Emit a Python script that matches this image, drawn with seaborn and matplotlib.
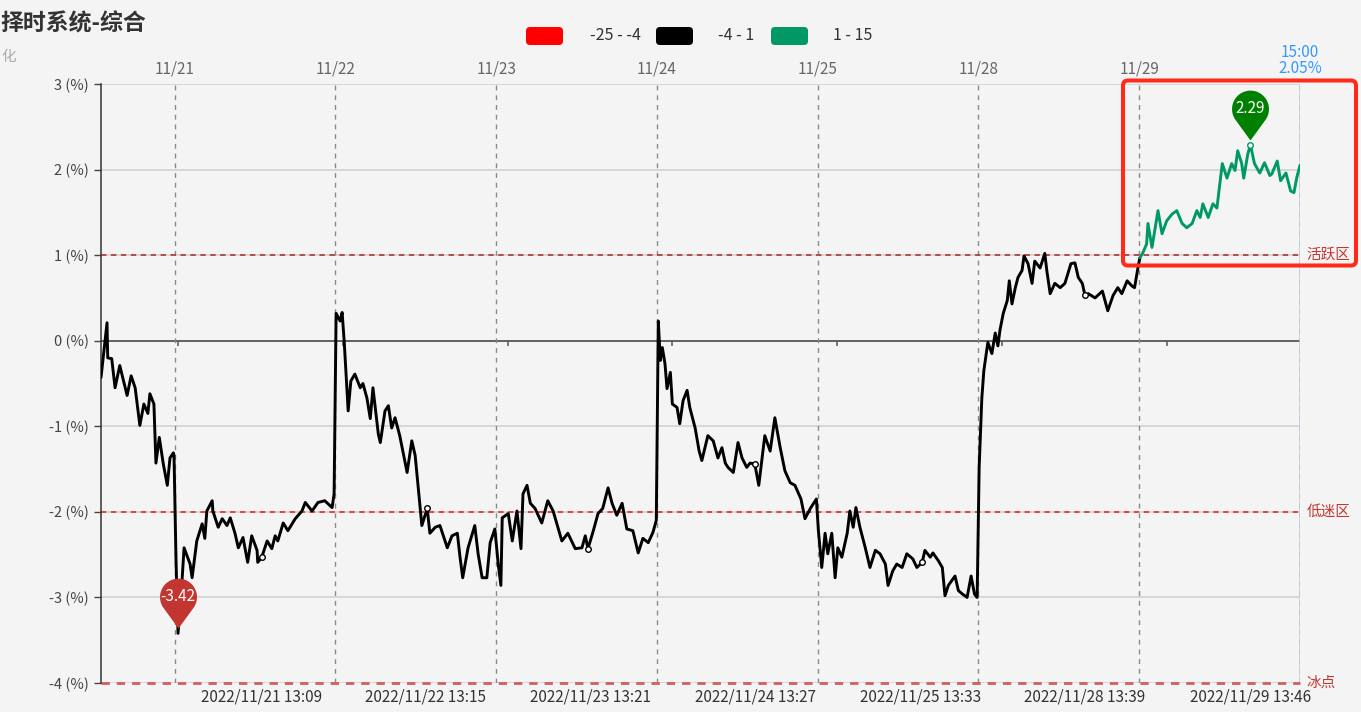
import numpy as np
import pandas as pd
import matplotlib.pyplot as plt
import seaborn as sns
from matplotlib.path import Path
from matplotlib.patches import FancyBboxPatch
from matplotlib.transforms import IdentityTransform

# 分时数据：交易分钟序号（0 = 11/18 13:10），涨跌幅(%)
minute = [0, 9, 10, 16, 21, 28, 39, 45, 51, 58, 64, 70, 73, 79, 82, 87, 93, 99, 103, 108, 109,
          112, 115, 121, 124, 133, 136, 143, 151, 155, 158, 166, 167, 175, 181, 188, 193, 200, 205, 212,
          219, 225, 233, 234, 240, 248, 255, 260, 264, 272, 279, 290, 300, 305, 315, 324, 334, 345, 348,
          351, 357, 360, 363, 369, 373, 379, 387, 391, 397, 402, 406, 414, 417, 424, 429, 434, 439, 446,
          457, 464, 469, 475, 479, 487, 491, 499, 506, 517, 524, 532, 536, 540, 548, 558, 563, 569, 576,
          581, 588,
          593, 597, 599, 608, 614, 621, 627, 630, 636, 641, 648, 658, 667, 675, 682, 688, 697, 708, 718,
          723, 727, 735, 742, 749, 757, 763, 770, 778, 785, 794, 802, 809, 817, 824, 829,
          832, 835, 838, 842, 845, 850, 853, 860, 864, 869, 875, 879, 887, 893, 897, 906, 914, 921, 927,
          932, 936, 944, 951, 957, 964, 969, 976, 982, 991, 999, 1006, 1014, 1021, 1029, 1036, 1045, 1051,
          1059, 1068,
          1071, 1076, 1081, 1085, 1091, 1096, 1100, 1106, 1114, 1118, 1123, 1127, 1133, 1141, 1148, 1156,
          1163, 1171, 1175, 1182, 1188, 1196, 1203, 1212, 1218, 1226, 1230, 1238, 1242, 1250, 1256, 1260,
          1265, 1275, 1280, 1286, 1293, 1299, 1304, 1308,
          1311, 1315, 1318, 1324, 1330, 1335, 1339, 1342, 1347, 1353, 1356, 1360, 1365, 1369, 1375, 1378,
          1384, 1390, 1394, 1402, 1409, 1412, 1417, 1424, 1432, 1439, 1448, 1454, 1459, 1465, 1469, 1474,
          1484, 1495, 1503, 1511, 1518, 1524, 1532, 1539, 1543, 1548,
          1551, 1555, 1561, 1563, 1569, 1573, 1578, 1584, 1591, 1599, 1606, 1614, 1621, 1629, 1636, 1641,
          1645, 1653, 1660, 1666, 1669, 1674, 1681, 1688, 1693, 1697, 1703, 1706, 1712, 1716, 1722, 1730,
          1737, 1745, 1748, 1756, 1761, 1769, 1776, 1781, 1785, 1790]
pct = [-0.43, 0.21, -0.20, -0.21, -0.55, -0.29, -0.64, -0.41, -0.55, -0.99, -0.74, -0.85, -0.62, -0.74,
       -1.43, -1.13, -1.44, -1.69, -1.37, -1.31, -1.34,
       -2.57, -3.42, -2.80, -2.42, -2.61, -2.77, -2.34, -2.14, -2.31, -1.99, -1.87, -1.99, -2.18, -2.08,
       -2.16, -2.07, -2.25, -2.42, -2.30, -2.59, -2.28, -2.45, -2.59, -2.53, -2.34, -2.43, -2.28, -2.34,
       -2.13, -2.22, -2.08, -1.99, -1.89, -1.99, -1.89, -1.87, -1.95, -1.79,
       0.32, 0.23, 0.33, 0.00, -0.82, -0.47, -0.39, -0.55, -0.50, -0.67, -0.91, -0.55, -1.09, -1.19,
       -0.82, -0.76, -1.02, -0.90, -1.11, -1.54, -1.17, -1.34, -1.83, -2.16, -1.96, -2.25, -2.18, -2.16,
       -2.42, -2.28, -2.25, -2.53, -2.77, -2.42, -2.16, -2.49, -2.77, -2.77, -2.36, -2.20,
       -2.61, -2.86, -2.07, -2.02, -2.34, -1.99, -2.43, -1.79, -1.69, -1.90, -1.96, -2.13, -1.87, -1.99,
       -2.18, -2.34, -2.25, -2.43, -2.42, -2.28, -2.43, -2.22, -2.02, -1.96, -1.72, -1.90, -2.04, -1.90,
       -2.20, -2.22, -2.48, -2.31, -2.36, -2.24, -2.10,
       0.23, -0.23, -0.08, -0.27, -0.56, -0.37, -0.74, -0.78, -0.97, -0.70, -0.58, -0.78, -1.02, -1.29,
       -1.40, -1.11, -1.17, -1.37, -1.25, -1.43, -1.48, -1.54, -1.19, -1.37, -1.48, -1.43, -1.44, -1.69,
       -1.11, -1.29, -0.90, -1.25, -1.52, -1.66, -1.69, -1.85, -2.08, -1.96, -1.85,
       -2.22, -2.65, -2.25, -2.49, -2.25, -2.77, -2.42, -2.53, -2.25, -1.99, -2.18, -1.95, -2.18, -2.42,
       -2.65, -2.45, -2.49, -2.61, -2.86, -2.69, -2.61, -2.65, -2.49, -2.55, -2.65, -2.59, -2.45, -2.53,
       -2.48, -2.57, -2.65, -2.98, -2.86, -2.75, -2.92, -2.96, -3.00, -2.75, -2.96, -3.00,
       -1.48, -0.67, -0.35, -0.02, -0.15, 0.09, -0.06, 0.12, 0.32, 0.47, 0.70, 0.43, 0.62, 0.74, 0.82,
       0.99, 0.90, 0.67, 0.93, 0.85, 1.02, 0.82, 0.55, 0.67, 0.62, 0.67, 0.90, 0.91, 0.74, 0.67, 0.53,
       0.55, 0.50, 0.58, 0.35, 0.53, 0.62, 0.55, 0.70, 0.64, 0.62, 0.85,
       0.97, 1.02, 1.13, 1.37, 1.09, 1.28, 1.52, 1.25, 1.40, 1.48, 1.52, 1.37, 1.32, 1.37, 1.52, 1.44,
       1.60, 1.44, 1.60, 1.55, 1.75, 2.07, 1.90, 2.07, 1.99, 2.22, 2.07, 1.90, 2.18, 2.29, 2.07, 1.96,
       2.08, 1.93, 1.95, 2.10, 1.87, 1.96, 1.75, 1.73, 1.90, 2.05]

day_labels = ['11/21', '11/22', '11/23', '11/24', '11/25', '11/28', '11/29']
day_start = [110, 350, 590, 830, 1070, 1310, 1550]
end_minute = 1790
end_label = '15:00'
bottom_ticks = [239, 485, 731, 977, 1223, 1469, 1716]
bottom_labels = ['2022/11/21 13:09', '2022/11/22 13:15', '2022/11/23 13:21', '2022/11/24 13:27',
                 '2022/11/25 13:33', '2022/11/28 13:39', '2022/11/29 13:46']
zero_ticks = [115, 361, 607, 853, 1099, 1345, 1591]
y_ticks = [-4, -3, -2, -1, 0, 1, 2, 3]

zone_levels = [1, -2, -4]
zone_names = ['活跃区', '低迷区', '冰点']
zone_colors = ['#b0413e', '#e53935', '#d0605e']

piece_labels = ['-25 - -4', '-4 - 1', '1 - 15']
piece_colors = ['#ff0000', '#000000', '#009966']
green_from = 1

W, H = 1361, 712
BG = '#f4f4f4'

sns.set_theme(style='white', rc={'axes.facecolor': BG, 'figure.facecolor': BG})
plt.rcParams['font.family'] = ['Noto Sans CJK SC', 'DejaVu Sans']

df = pd.DataFrame({'minute': minute, 'pct': pct})

fig = plt.figure(figsize=(W / 100, H / 100), dpi=100)
ax = fig.add_axes([101 / W, 1 - 683 / H, (1300 - 101) / W, (683 - 84) / H])

# 网格与零轴
for y in y_ticks:
    if y != 0:
        ax.axhline(y, color='#cfcfcf', lw=1.1, zorder=0)
ax.axhline(0, color='#555555', lw=1.3, zorder=1)
ax.vlines(zero_ticks, -0.06, 0, color='#555555', lw=1.1, zorder=1)

for d in day_start:
    ax.axvline(d, color='#8a8a8a', lw=1.0, dashes=(3.5, 3.5), zorder=1)
ax.axvline(end_minute, color='#d0d0d0', lw=1.2, zorder=1)
ax.axvline(end_minute, color='#3399ff', lw=1.0, dashes=(3.5, 3.5), zorder=2)

for lv, name, c in zip(zone_levels, zone_names, zone_colors):
    ax.axhline(lv, color=c, lw=1.3 if lv != -4 else 2.0, dashes=(3, 2.5), zorder=2, clip_on=False)
    ax.annotate(name, xy=(1, lv), xycoords=('axes fraction', 'data'), xytext=(4.5, 0),
                textcoords='offset points', ha='left', va='center', color='#c23531',
                fontsize=10.5, annotation_clip=False)

# 主线：按数值分段着色（>=1 的连续区段为绿色，其余黑色）
above = (df['pct'] >= green_from).to_numpy()
pieces = []
start, i = 0, 0
while i < len(above):
    if above[i]:
        j = i
        while j < len(above) and above[j]:
            j += 1
        if j - i >= 3:
            pieces.append((start, i, 'black'))
            pieces.append((i - 1, j, piece_colors[2]))
            start = j - 1
        i = j
    else:
        i += 1
if start < len(above) - 1:
    pieces.append((start, len(above), 'black'))

for a, b, c in pieces:
    sns.lineplot(data=df.iloc[a:b], x='minute', y='pct', color=c, lw=2.1, ax=ax, zorder=3)

# 标签位置上的空心小圆点
for t in bottom_ticks:
    k = int(np.argmin(np.abs(df['minute'].to_numpy() - t)))
    row = df.iloc[k]
    ec = piece_colors[2] if row['pct'] >= green_from else 'black'
    ax.plot(row['minute'], row['pct'], 'o', ms=4, mfc='white', mec=ec, mew=1.0, zorder=5)

# 最大/最小值气泡
def pin_path(c=1.7, lift=0.27):
    cy = c + lift
    a = np.degrees(np.arccos(1 / c))
    th = np.radians(np.linspace(-90 + a, 270 - a, 80))
    verts = [(0, lift)] + [(np.cos(t), cy + np.sin(t)) for t in th] + [(0, lift)]
    codes = [Path.MOVETO] + [Path.LINETO] * len(th) + [Path.CLOSEPOLY]
    return Path(verts, codes), cy

pin, pin_cy = pin_path()
r_pt = 13.3
for idx, col in [(df['pct'].idxmin(), '#c23531'), (df['pct'].idxmax(), '#008000')]:
    m, v = df.loc[idx, 'minute'], df.loc[idx, 'pct']
    ax.plot(m, v, marker=pin, ms=2 * r_pt * (pin_cy + 1), color=col, mew=0, zorder=6, clip_on=False)
    ax.annotate(f'{v:.2f}', xy=(m, v), xytext=(0, r_pt * pin_cy), textcoords='offset points',
                ha='center', va='center', color='white', fontsize=11, zorder=7)

ax.set_xlim(0, end_minute)
ax.set_ylim(-4, 3)
ax.set_xlabel('')
ax.set_ylabel('')
ax.set_yticks(y_ticks)
ax.set_yticklabels([f'{y} (%)' for y in y_ticks])
ax.set_xticks(bottom_ticks)
ax.set_xticklabels(bottom_labels)
ax.tick_params(axis='x', length=0, pad=4, labelsize=11, colors='#333333')
ax.tick_params(axis='y', length=5, width=1, pad=4, labelsize=10.5, colors='#444444', left=True)
for s in ['top', 'right', 'bottom']:
    ax.spines[s].set_visible(False)
ax.spines['left'].set_color('#333333')
ax.spines['left'].set_linewidth(1.1)

# 顶部日期轴
ax2 = ax.twiny()
ax2.set_xlim(ax.get_xlim())
ax2.set_xticks(day_start + [end_minute])
ax2.set_xticklabels(day_labels + [f'{end_label}\n{pct[-1]:.2f}%'], linespacing=0.95)
ax2.tick_params(axis='x', length=0, pad=5, labelsize=11, colors='#666666')
ax2.get_xticklabels()[-1].set_color('#3399ff')
for s in ax2.spines.values():
    s.set_visible(False)

# 标题
fig.text(0, 1 - 24 / H, '择时系统-综合', fontsize=16.5, fontweight='bold', color='#333333',
         ha='left', va='center')
fig.text(1 / W, 1 - 57 / H, '化', fontsize=10.5, color='#aaaaaa', ha='left', va='center')

# 图例（分段）
box_x = [526, 656, 771]
text_x = [590, 718, 833]
for bx, tx, lab, c in zip(box_x, text_x, piece_labels, piece_colors):
    fig.add_artist(FancyBboxPatch((bx, H - 45), 37, 18, boxstyle='round,pad=0,rounding_size=4',
                                  fc=c, ec='none', transform=IdentityTransform()))
    fig.text(tx / W, 1 - 36 / H, lab, fontsize=11.5, color='#333333', ha='left', va='center')

# 红框标注
fig.add_artist(FancyBboxPatch((1123, H - 265.5), 233, 185, boxstyle='round,pad=0,rounding_size=5',
                              fc='none', ec='#ff2a1a', lw=2.9, transform=IdentityTransform(), zorder=10))

fig.savefig('out.png', dpi=100, facecolor=BG)
